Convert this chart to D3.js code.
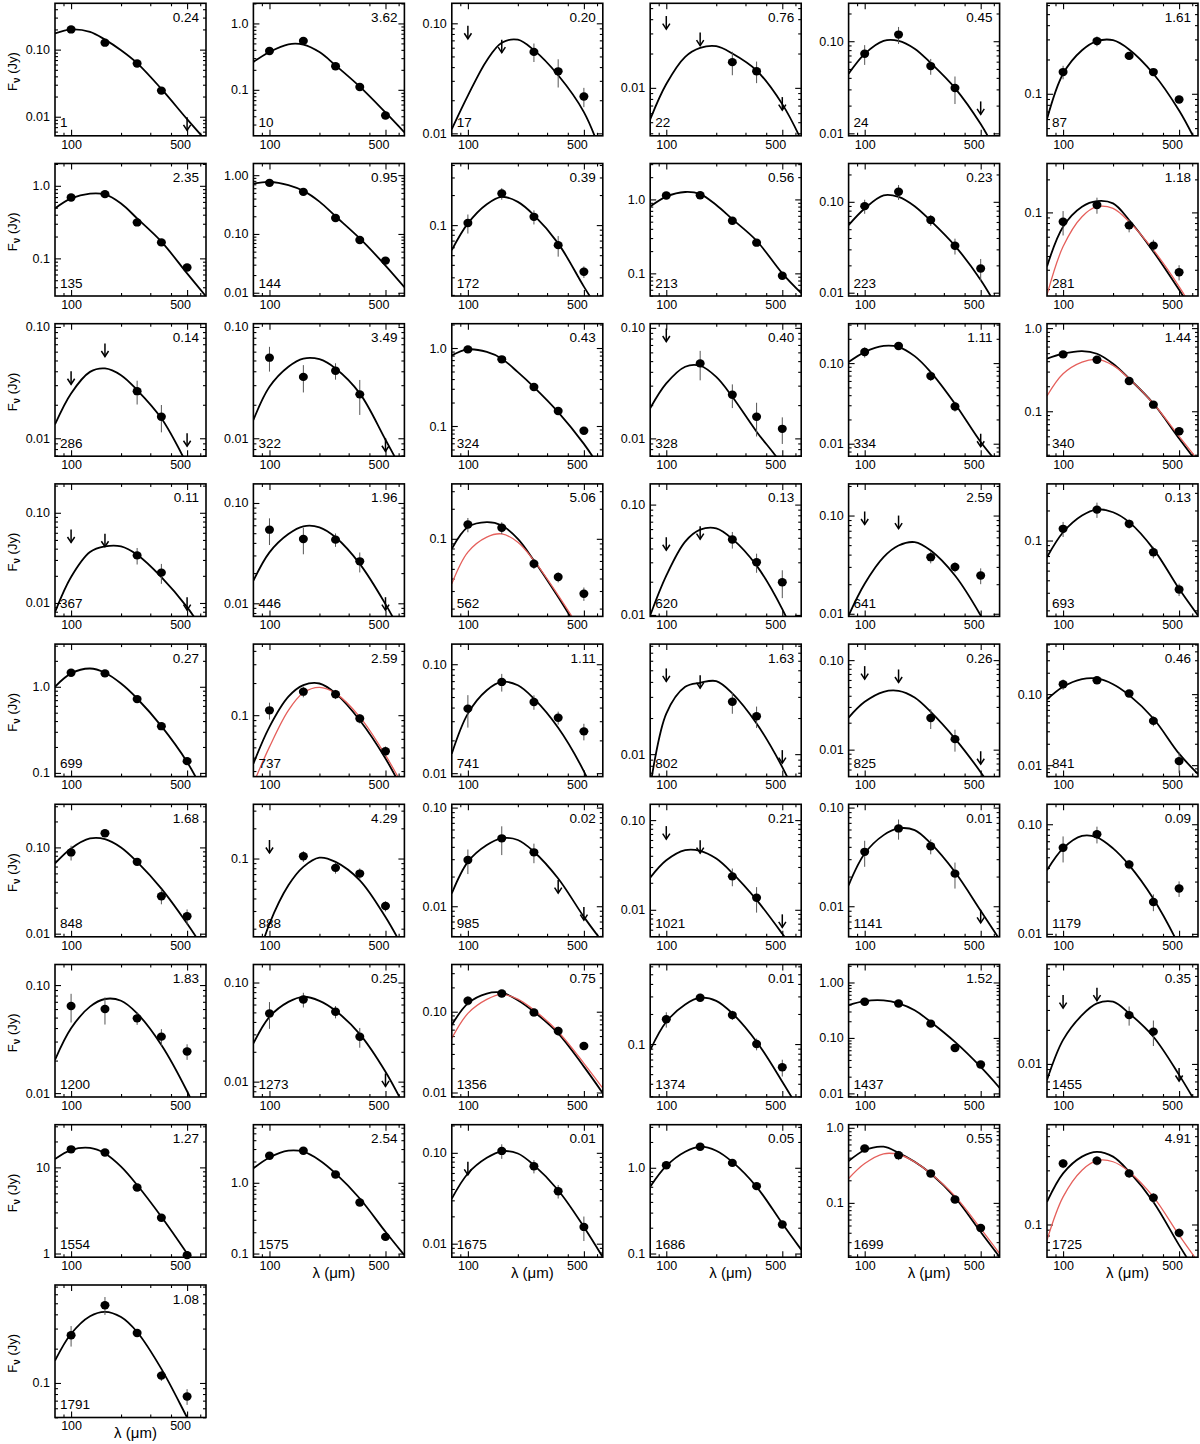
<!DOCTYPE html>
<html><head><meta charset="utf-8">
<script src="https://cdn.jsdelivr.net/npm/d3@7"></script>
<style>body{margin:0;background:#fff}svg{display:block}</style>
</head><body><svg id="chart" width="1200" height="1444"></svg>
<script>
const wavelengths = [100, 160, 250, 350, 500];
const curveWavelengths = [80, 100, 130, 160, 200, 250, 350, 500, 650];
const xDomain = [80, 650];
const xTickValues = [100, 500];
const xTickLabels = ["100", "500"];
const xMinorTicks = [90, 200, 300, 400, 600];

const sourceIds = ["1","10","17","22","24","87","135","144","172","213","223","281","286","322","324","328","334","340","367","446","562","620","641","693","699","737","741","802","825","841","848","888","985","1021","1141","1179","1200","1273","1356","1374","1437","1455","1554","1575","1675","1686","1699","1725","1791"];
const chiValues = ["0.24","3.62","0.20","0.76","0.45","1.61","2.35","0.95","0.39","0.56","0.23","1.18","0.14","3.49","0.43","0.40","1.11","1.44","0.11","1.96","5.06","0.13","2.59","0.13","0.27","2.59","1.11","1.63","0.26","0.46","1.68","4.29","0.02","0.21","0.01","0.09","1.83","0.25","0.75","0.01","1.52","0.35","1.27","2.54","0.01","0.05","0.55","4.91","1.08"];

const yDomains = [
  [0.0052,0.49],[0.0203,2.01],[0.0095,0.152],[0.0038,0.0551],[0.0094,0.258],[0.0428,0.622],
  [0.0303,2.03],[0.0088,1.58],[0.0195,0.414],[0.0494,3.06],[0.0092,0.264],[0.0173,0.279],
  [0.0069,0.107],[0.0069,0.107],[0.041,2.05],[0.0069,0.109],[0.0070,0.308],[0.0288,1.13],
  [0.0071,0.209],[0.0074,0.155],[0.0167,0.355],[0.0097,0.154],[0.0094,0.21],[0.0174,0.369],
  [0.0906,3.13],[0.0266,0.463],[0.0093,0.153],[0.0065,0.0826],[0.0050,0.151],[0.0069,0.506],
  [0.0092,0.316],[0.0166,0.347],[0.0049,0.108],[0.0050,0.150],[0.0049,0.108],[0.0094,0.152],
  [0.0092,0.155],[0.0070,0.152],[0.0088,0.384],[0.0295,0.626],[0.0086,2.11],[0.0051,0.0757],
  [0.906,31.3],[0.0888,6.62],[0.0071,0.204],[0.0906,3.18],[0.0189,1.1],[0.0515,0.757],
  [0.0498,0.723]
];
const yTickLabels = [
  ["0.10","0.01"],["1.0","0.1"],["0.10","0.01"],["0.01"],["0.10","0.01"],["0.1"],
  ["1.0","0.1"],["1.00","0.10","0.01"],["0.1"],["1.0","0.1"],["0.10","0.01"],["0.1"],
  ["0.10","0.01"],["0.10","0.01"],["1.0","0.1"],["0.10","0.01"],["0.10","0.01"],["1.0","0.1"],
  ["0.10","0.01"],["0.10","0.01"],["0.1"],["0.10","0.01"],["0.10","0.01"],["0.1"],
  ["1.0","0.1"],["0.1"],["0.10","0.01"],["0.01"],["0.10","0.01"],["0.10","0.01"],
  ["0.10","0.01"],["0.1"],["0.10","0.01"],["0.10","0.01"],["0.10","0.01"],["0.10","0.01"],
  ["0.10","0.01"],["0.10","0.01"],["0.10","0.01"],["0.1"],["1.00","0.10","0.01"],["0.01"],
  ["10","1"],["1.0","0.1"],["0.10","0.01"],["1.0","0.1"],["1.0","0.1"],["0.1"],
  ["0.1"]
];

// flux density (Jy) at 100,160,250,350,500 um
const fluxes = [
  [0.20,0.127,0.062,0.0245,0.0098],[0.385,0.546,0.226,0.11,0.041],[0.095,0.071,0.055,0.0366,0.0216],
  [0.0426,0.0305,0.0168,0.0140,0.0083],[0.073,0.118,0.0537,0.0311,0.0222],[0.155,0.29,0.215,0.155,0.089],
  [0.69,0.768,0.313,0.166,0.075],[0.74,0.52,0.187,0.079,0.0352],[0.105,0.207,0.121,0.063,0.0341],
  [1.13,1.14,0.515,0.26,0.093],[0.0896,0.129,0.063,0.0328,0.0185],[0.0822,0.1167,0.0762,0.0498,0.0285],
  [0.040,0.071,0.0265,0.0156,0.0111],[0.053,0.0356,0.0404,0.0248,0.010],[0.96,0.716,0.316,0.156,0.087],
  [0.0986,0.0477,0.0248,0.0157,0.0122],[0.137,0.163,0.069,0.029,0.0133],[0.483,0.417,0.231,0.12,0.0575],
  [0.0653,0.0586,0.0337,0.0217,0.0116],[0.0542,0.0437,0.0431,0.0262,0.0115],[0.139,0.129,0.0562,0.0414,0.0282],
  [0.0506,0.0637,0.0482,0.030,0.0198],[0.11,0.10,0.0377,0.0299,0.0245],[0.131,0.204,0.147,0.0764,0.0324],
  [1.455,1.43,0.719,0.349,0.137],[0.111,0.166,0.157,0.093,0.0459],[0.0391,0.0688,0.045,0.0323,0.0242],
  [0.0518,0.0455,0.0273,0.0207,0.0108],[0.0857,0.0786,0.0226,0.0131,0.0096],[0.138,0.157,0.102,0.042,0.0114],
  [0.0875,0.146,0.068,0.0272,0.0159],[0.153,0.1055,0.0807,0.0708,0.0336],[0.0294,0.0488,0.0352,0.0184,0.0098],
  [0.0857,0.0597,0.0236,0.0136,0.0089],[0.0356,0.0615,0.0406,0.0214,0.0092],[0.0611,0.0809,0.043,0.0195,0.0259],
  [0.064,0.06,0.0492,0.0333,0.0243],[0.0488,0.0674,0.0507,0.0284,0.0121],[0.137,0.168,0.098,0.0577,0.0377],
  [0.177,0.291,0.195,0.1,0.0585],[0.449,0.419,0.181,0.066,0.0331],[0.0406,0.0472,0.027,0.0193,0.0092],
  [16.2,14.9,5.85,2.6,0.957],[2.41,2.84,1.31,0.527,0.172],[0.0796,0.105,0.0713,0.0378,0.0153],
  [1.07,1.76,1.14,0.611,0.218],[0.53,0.432,0.246,0.111,0.0464],[0.345,0.365,0.282,0.172,0.0844],
  [0.262,0.481,0.274,0.116,0.0762]
];
// 1-sigma uncertainties (Jy)
const fluxErrors = [
  [0.01,0.008,0.004,0.002,0],[0.02,0.03,0.015,0.007,0.004],[0,0,0.0105,0.0105,0.0043],
  [0,0,0.0039,0.003,0],[0.0177,0.0248,0.0105,0.0103,0],[0.021,0.029,0.015,0.01,0.006],
  [0.04,0.04,0.02,0.01,0.005],[0.04,0.03,0.01,0.005,0.003],[0.0227,0.0275,0.0195,0.0147,0.0045],
  [0.05,0.05,0.03,0.015,0.006],[0.0158,0.024,0.0087,0.0065,0.005],[0.0206,0.0195,0.0104,0.0065,0.0045],
  [0,0,0.0064,0.0043,0],[0.0133,0.0098,0.0068,0.0086,0],[0.04,0.03,0.015,0.008,0.005],
  [0,0.0142,0.006,0.0053,0.0033],[0.02,0.01,0.009,0.004,0],[0.03,0.03,0.012,0.007,0.004],
  [0,0,0.007,0.0054,0],[0.0161,0.0129,0.0066,0.0059,0],[0.0227,0.0175,0.0064,0.0048,0.0043],
  [0,0,0.0083,0.0059,0.0056],[0,0,0.0051,0.0035,0.0045],[0.0225,0.0355,0.0155,0.0101,0.0046],
  [0.06,0.06,0.03,0.015,0.007],[0.020,0.019,0.0155,0.0093,0.005],[0.0129,0.0127,0.0068,0.0044,0.0042],
  [0,0,0.0056,0.0042,0],[0,0,0.0056,0.0036,0],[0.023,0.008,0.006,0.0067,0.0037],
  [0.017,0.01,0.006,0.0053,0.0032],[0,0.013,0.01,0.0089,0.0039],[0.0082,0.0158,0.0079,0,0],
  [0,0,0.0053,0.0043,0],[0.0105,0.0142,0.007,0.0063,0],[0.0163,0.0141,0.0043,0.0034,0.0042],
  [0.019,0.0169,0.0064,0.0058,0.004],[0.0147,0.0114,0.0072,0.0064,0],[0.018,0.017,0.011,0.0076,0.0039],
  [0.031,0.0275,0.021,0.0135,0.0112],[0.025,0.025,0.01,0.004,0.002],[0,0,0.0052,0.0049,0],
  [0.8,0.8,0.3,0.15,0.05],[0.12,0.14,0.07,0.03,0.01],[0,0.0192,0.0119,0.0064,0.0046],
  [0.05,0.08,0.05,0.03,0.01],[0.03,0.061,0.015,0.007,0.006],[0.0315,0.0345,0.0255,0.0165,0.0078],
  [0.0535,0.086,0.0205,0.0118,0.012]
];
// 1 = upper limit
const upperLimits = [
  [0,0,0,0,1],[0,0,0,0,0],[1,1,0,0,0],[1,1,0,0,1],[0,0,0,0,1],[0,0,0,0,0],
  [0,0,0,0,0],[0,0,0,0,0],[0,0,0,0,0],[0,0,0,0,0],[0,0,0,0,0],[0,0,0,0,0],
  [1,1,0,0,1],[0,0,0,0,1],[0,0,0,0,0],[1,0,0,0,0],[0,0,0,0,1],[0,0,0,0,0],
  [1,1,0,0,1],[0,0,0,0,1],[0,0,0,0,0],[1,1,0,0,0],[1,1,0,0,0],[0,0,0,0,0],
  [0,0,0,0,0],[0,0,0,0,0],[0,0,0,0,0],[1,1,0,0,1],[1,1,0,0,1],[0,0,0,0,0],
  [0,0,0,0,0],[1,0,0,0,0],[0,0,0,1,1],[1,1,0,0,1],[0,0,0,0,1],[0,0,0,0,0],
  [0,0,0,0,0],[0,0,0,0,1],[0,0,0,0,0],[0,0,0,0,0],[0,0,0,0,0],[1,1,0,0,1],
  [0,0,0,0,0],[0,0,0,0,0],[1,0,0,0,0],[0,0,0,0,0],[0,0,0,0,0],[0,0,0,0,0],
  [0,0,0,0,0]
];
// best-fit curve, read at curveWavelengths (Jy)
const fitCurves = [
  [0.174,0.20,0.184,0.141,0.098,0.063,0.026,0.0092,0.0044],
  [0.263,0.372,0.485,0.48,0.37,0.234,0.112,0.0457,0.0229],
  [0.0109,0.022,0.046,0.0665,0.071,0.057,0.0337,0.0156,0.006],
  [0.0053,0.0108,0.0187,0.0224,0.0232,0.020,0.0142,0.0072,0.0035],
  [0.0443,0.073,0.101,0.101,0.083,0.058,0.031,0.0126,0.0054],
  [0.060,0.15,0.241,0.29,0.295,0.245,0.15,0.0713,0.035],
  [0.488,0.67,0.78,0.76,0.57,0.355,0.17,0.062,0.030],
  [0.72,0.77,0.68,0.54,0.355,0.2,0.084,0.029,0.0124],
  [0.0562,0.104,0.162,0.192,0.171,0.126,0.0656,0.0242,0.0121],
  [0.80,1.09,1.26,1.18,0.84,0.54,0.276,0.1,0.054],
  [0.0555,0.0845,0.118,0.1135,0.0896,0.0618,0.0328,0.0138,0.0062],
  [0.0321,0.0741,0.1127,0.1268,0.1208,0.0852,0.0439,0.0197,0.0105],
  [0.0133,0.0253,0.0395,0.0424,0.0369,0.0271,0.0151,0.0058,0.0025],
  [0.0146,0.029,0.0439,0.052,0.0513,0.0424,0.0253,0.0097,0.0047],
  [0.805,0.96,0.89,0.73,0.49,0.316,0.151,0.059,0.0257],
  [0.0187,0.0314,0.0445,0.0454,0.036,0.0238,0.0115,0.0057,0.0025],
  [0.103,0.137,0.163,0.158,0.122,0.0773,0.0313,0.0105,0.0054],
  [0.428,0.492,0.53,0.492,0.373,0.247,0.124,0.047,0.0235],
  [0.0079,0.0194,0.0367,0.0424,0.0424,0.0343,0.0194,0.009,0.0044],
  [0.0168,0.0322,0.049,0.0585,0.0572,0.0455,0.0247,0.0098,0.0044],
  [0.0794,0.131,0.147,0.136,0.1,0.0607,0.0261,0.01,0.005],
  [0.0099,0.0227,0.0462,0.0593,0.061,0.0489,0.028,0.0113,0.0046],
  [0.0096,0.0202,0.0377,0.0495,0.0536,0.044,0.0245,0.0096,0.0041],
  [0.0681,0.121,0.178,0.204,0.192,0.153,0.0826,0.0329,0.0178],
  [1.0,1.43,1.63,1.455,1.09,0.731,0.349,0.134,0.0526],
  [0.0352,0.0778,0.149,0.191,0.198,0.160,0.0897,0.0393,0.0185],
  [0.0151,0.0352,0.0577,0.0688,0.0641,0.0483,0.0261,0.0104,0.0042],
  [0.0053,0.0218,0.0364,0.0393,0.0406,0.0321,0.018,0.0078,0.0036],
  [0.0228,0.0342,0.0443,0.0454,0.0382,0.0264,0.0133,0.0056,0.0027],
  [0.0841,0.127,0.163,0.166,0.138,0.0968,0.0454,0.0145,0.0075],
  [0.0652,0.0973,0.127,0.125,0.1,0.068,0.0333,0.0131,0.0061],
  [0.0071,0.0224,0.0541,0.0826,0.102,0.0926,0.0607,0.0261,0.0121],
  [0.0135,0.0282,0.0417,0.0488,0.0469,0.0357,0.0191,0.0078,0.0043],
  [0.0228,0.0356,0.0462,0.0454,0.0372,0.0257,0.0129,0.0054,0.0027],
  [0.0163,0.0342,0.0526,0.0615,0.0591,0.0433,0.0222,0.009,0.0046],
  [0.0381,0.0603,0.0782,0.076,0.0603,0.0424,0.0209,0.0078,0.0032],
  [0.0203,0.0398,0.0631,0.0743,0.0716,0.0547,0.0279,0.0104,0.0043],
  [0.0243,0.0451,0.0638,0.0718,0.0653,0.0519,0.0302,0.0126,0.0056],
  [0.0684,0.127,0.168,0.172,0.139,0.1,0.054,0.0209,0.0098],
  [0.087,0.167,0.249,0.291,0.271,0.203,0.1055,0.042,0.0203],
  [0.391,0.461,0.474,0.419,0.315,0.194,0.0847,0.030,0.0126],
  [0.0072,0.0163,0.027,0.0343,0.0355,0.028,0.0174,0.008,0.0042],
  [12.5,15.9,16.8,14.5,10.2,6.24,2.67,1.0,0.469],
  [1.6,2.28,2.84,2.75,2.09,1.36,0.6,0.203,0.0946],
  [0.0313,0.0592,0.0881,0.104,0.0984,0.0731,0.0387,0.0153,0.0071],
  [0.6,1.05,1.54,1.76,1.58,1.17,0.6,0.224,0.111],
  [0.36,0.503,0.56,0.464,0.352,0.246,0.118,0.041,0.019],
  [0.158,0.282,0.396,0.437,0.396,0.292,0.158,0.0658,0.0357],
  [0.157,0.27,0.385,0.421,0.379,0.28,0.133,0.0498,0.0237]
];
// second (red) model curve, only for some sources
const altCurveIndex = [11, 17, 20, 25, 38, 46, 47];
const altCurves = [
  [0.0177,0.0488,0.0914,0.1127,0.1087,0.0822,0.0455,0.0211,0.0109],
  [0.153,0.283,0.391,0.42,0.356,0.247,0.124,0.050,0.0258],
  [0.0355,0.0736,0.104,0.112,0.0926,0.0607,0.0271,0.0108,0.0054],
  [0.0229,0.0505,0.111,0.162,0.182,0.160,0.0964,0.0422,0.0205],
  [0.0469,0.0953,0.142,0.164,0.143,0.105,0.0566,0.023,0.0113],
  [0.211,0.334,0.45,0.441,0.352,0.246,0.123,0.0455,0.0211],
  [0.0728,0.175,0.301,0.365,0.357,0.292,0.175,0.0805,0.0469]
];

const FONT = "'Liberation Sans', Arial, Helvetica, sans-serif";
const colLeft = [55, 253.4, 451.8, 650.2, 848.6, 1047];
const panelW = 151, panelH = 132.5;
function panelPos(i) {
  if (i === 48) return [55, 1285];
  return [colLeft[i % 6], 3.3 + 160.2 * Math.floor(i / 6)];
}
const yLabelPanels = [0, 6, 12, 18, 24, 30, 36, 42, 48];
const xLabelPanels = [43, 44, 45, 46, 47, 48];

const svg = d3.select("#chart");
svg.append("rect").attr("width", 1200).attr("height", 1444).attr("fill", "#fff");

function styleAxis(sel, fs) {
  sel.select(".domain").remove();
  sel.attr("font-family", FONT).attr("font-size", fs);
  sel.selectAll("line").attr("stroke", "#000").attr("stroke-width", 1.1);
  sel.selectAll("text").attr("fill", "#000");
}

sourceIds.forEach((id, i) => {
  const [x0, y0] = panelPos(i);
  const g = svg.append("g").attr("transform", `translate(${x0},${y0})`);
  const x = d3.scaleLog().domain(xDomain).range([0, panelW]);
  const y = d3.scaleLog().domain(yDomains[i]).range([panelH, 0]);
  const labels = yTickLabels[i];
  const majors = labels.map(Number);
  const labelMap = new Map(majors.map((v, j) => [v, labels[j]]));
  const [lo, hi] = yDomains[i];
  const minors = [];
  for (let e = Math.floor(Math.log10(lo)) - 1; e <= Math.ceil(Math.log10(hi)); e++) {
    for (let k = 2; k <= 9; k++) {
      const v = k * Math.pow(10, e);
      if (v > lo && v < hi) minors.push(v);
    }
  }

  // y axes (left labelled, right plain), ticks inward
  g.append("g").call(d3.axisLeft(y).tickValues(majors).tickFormat(d => labelMap.get(d)).tickSizeInner(-6).tickSizeOuter(0).tickPadding(5)).call(s => styleAxis(s, 12.5));
  g.append("g").call(d3.axisLeft(y).tickValues(minors).tickFormat("").tickSizeInner(-3).tickSizeOuter(0)).call(s => styleAxis(s, 10));
  g.append("g").attr("transform", `translate(${panelW},0)`).call(d3.axisRight(y).tickValues(majors).tickFormat("").tickSizeInner(-6).tickSizeOuter(0)).call(s => styleAxis(s, 10));
  g.append("g").attr("transform", `translate(${panelW},0)`).call(d3.axisRight(y).tickValues(minors).tickFormat("").tickSizeInner(-3).tickSizeOuter(0)).call(s => styleAxis(s, 10));

  // x axes
  const xb = g.append("g").attr("transform", `translate(0,${panelH})`)
    .call(d3.axisBottom(x).tickValues(xTickValues).tickFormat(d => xTickLabels[xTickValues.indexOf(d)]).tickSizeInner(-6).tickSizeOuter(0).tickPadding(4))
    .call(s => styleAxis(s, 12.5));
  xb.selectAll(".tick text").filter(d => d === 500).attr("dx", -7);
  g.append("g").attr("transform", `translate(0,${panelH})`).call(d3.axisBottom(x).tickValues(xMinorTicks).tickFormat("").tickSizeInner(-3).tickSizeOuter(0)).call(s => styleAxis(s, 10));
  g.append("g").call(d3.axisTop(x).tickValues(xTickValues).tickFormat("").tickSizeInner(-6).tickSizeOuter(0)).call(s => styleAxis(s, 10));
  g.append("g").call(d3.axisTop(x).tickValues(xMinorTicks).tickFormat("").tickSizeInner(-3).tickSizeOuter(0)).call(s => styleAxis(s, 10));

  // curves
  const clipId = "clip" + i;
  g.append("clipPath").attr("id", clipId).append("rect").attr("width", panelW).attr("height", panelH);
  const line = d3.line().x((d, j) => x(curveWavelengths[j])).y(d => y(d)).curve(d3.curveCatmullRom.alpha(0.5));
  g.append("path").datum(fitCurves[i]).attr("d", line).attr("fill", "none")
    .attr("stroke", "#000").attr("stroke-width", 1.8).attr("clip-path", `url(#${clipId})`);
  const ai = altCurveIndex.indexOf(i);
  if (ai >= 0) {
    g.append("path").datum(altCurves[ai]).attr("d", line).attr("fill", "none")
      .attr("stroke", "#e5605c").attr("stroke-width", 1.3).attr("clip-path", `url(#${clipId})`);
  }

  // data
  wavelengths.forEach((w, j) => {
    const f = fluxes[i][j];
    const px = x(w);
    if (upperLimits[i][j]) {
      const yt = y(f), yb = yt + 13;
      g.append("line").attr("x1", px).attr("x2", px).attr("y1", yt).attr("y2", yb)
        .attr("stroke", "#000").attr("stroke-width", 1.5);
      g.append("path").attr("d", `M${px - 3.6},${yb - 5.5}L${px},${yb}L${px + 3.6},${yb - 5.5}`)
        .attr("fill", "none").attr("stroke", "#000").attr("stroke-width", 1.5);
    } else {
      const s = fluxErrors[i][j];
      if (s > 0) {
        const lowV = Math.max(f - s, lo * 0.5);
        g.append("line").attr("x1", px).attr("x2", px).attr("y1", y(f + s)).attr("y2", y(lowV))
          .attr("stroke", "#555").attr("stroke-width", 1);
      }
      g.append("ellipse").attr("cx", px).attr("cy", y(f)).attr("rx", 4.5).attr("ry", 4.2).attr("fill", "#000");
    }
  });

  // frame
  g.append("rect").attr("width", panelW).attr("height", panelH).attr("fill", "none")
    .attr("stroke", "#000").attr("stroke-width", 1.6);

  // texts
  g.append("text").attr("x", panelW - 7).attr("y", 18.5).attr("text-anchor", "end")
    .attr("font-family", FONT).attr("font-size", 13.5).text(chiValues[i]);
  g.append("text").attr("x", 5).attr("y", panelH - 8.5)
    .attr("font-family", FONT).attr("font-size", 13.5).text(id);

  if (yLabelPanels.includes(i)) {
    const t = g.append("text").attr("transform", `translate(${-38},${panelH / 2 + 2}) rotate(-90)`)
      .attr("text-anchor", "middle").attr("font-family", FONT).attr("font-size", 13);
    t.append("tspan").text("F");
    t.append("tspan").attr("dy", 3).attr("font-size", 10).attr("font-weight", "bold").text("ν");
    t.append("tspan").attr("dy", -3).text(" (Jy)");
  }
  if (xLabelPanels.includes(i)) {
    g.append("text").attr("x", panelW / 2 + 5).attr("y", panelH + 20.5).attr("text-anchor", "middle")
      .attr("font-family", FONT).attr("font-size", 15).text("λ (μm)");
  }
});
</script>
</body></html>
